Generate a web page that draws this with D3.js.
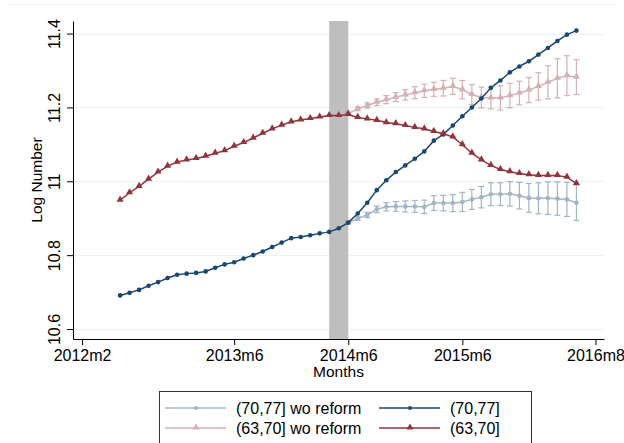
<!DOCTYPE html>
<html>
<head>
<meta charset="utf-8">
<script src="https://d3js.org/d3.v7.min.js"></script>
<style>
body { margin: 0; background: #fff; }
text { font-family: "Liberation Sans", Arial, sans-serif; }
</style>
</head>
<body>
<div id="chart-area"></div>
<script>
/*
*    log number by age group, actual vs. counterfactual
*/

// months counted from 2012m2 (= 0)
var tickMonths = [0, 16, 28, 40, 54];
var tickLabels = ["2012m2", "2013m6", "2014m6", "2015m6", "2016m8"];
var yTicks = [10.6, 10.8, 11, 11.2, 11.4];

var firstMonth = 4;      // 2012m6
var reformMonth = 28;    // 2014m6, counterfactual starts here
var bandStart = 26;      // 2014m4
var bandEnd = 28;        // 2014m6

var old7077 = [10.691, 10.698, 10.706, 10.717, 10.727, 10.738, 10.747, 10.750, 10.752, 10.756,
	10.766, 10.775, 10.781, 10.791, 10.800, 10.810, 10.822, 10.834, 10.846, 10.849,
	10.854, 10.859, 10.863, 10.873, 10.888, 10.913, 10.942, 10.976, 11.003, 11.025,
	11.043, 11.061, 11.081, 11.110, 11.127, 11.151, 11.176, 11.200, 11.224, 11.253,
	11.273, 11.295, 11.311, 11.325, 11.343, 11.361, 11.380, 11.397, 11.408];

var young6370 = [10.949, 10.969, 10.986, 11.006, 11.025, 11.041, 11.052, 11.058, 11.062, 11.068,
	11.076, 11.083, 11.095, 11.105, 11.117, 11.130, 11.142, 11.152, 11.161, 11.166,
	11.170, 11.174, 11.178, 11.178, 11.181, 11.173, 11.169, 11.165, 11.159, 11.156,
	11.151, 11.146, 11.142, 11.135, 11.129, 11.120, 11.099, 11.076, 11.058, 11.043,
	11.032, 11.026, 11.021, 11.018, 11.016, 11.016, 11.016, 11.011, 10.994];

// without reform, from 2014m6 on
var old7077wo = [10.888, 10.899, 10.909, 10.924, 10.931, 10.932, 10.932, 10.932, 10.931, 10.941,
	10.941, 10.941, 10.944, 10.951, 10.957, 10.965, 10.965, 10.966, 10.961, 10.955,
	10.954, 10.954, 10.953, 10.951, 10.942];
var old7077woCI = [0.003, 0.005, 0.007, 0.009, 0.011, 0.013, 0.015, 0.016, 0.018, 0.020,
	0.021, 0.023, 0.026, 0.027, 0.029, 0.031, 0.031, 0.033, 0.036, 0.039,
	0.042, 0.044, 0.045, 0.046, 0.048];

var young6370wo = [11.184, 11.196, 11.205, 11.214, 11.221, 11.228, 11.234, 11.240, 11.245, 11.249,
	11.252, 11.257, 11.248, 11.235, 11.227, 11.226, 11.226, 11.232, 11.239, 11.247,
	11.257, 11.268, 11.279, 11.286, 11.282];
var young6370woCI = [0.003, 0.005, 0.007, 0.009, 0.011, 0.012, 0.014, 0.016, 0.018, 0.019,
	0.021, 0.022, 0.025, 0.027, 0.028, 0.030, 0.033, 0.033, 0.032, 0.034,
	0.037, 0.045, 0.053, 0.054, 0.047];

var navy = "#1a476f";
var maroon = "#90353b";

var width = 624;
var height = 443;
var plot = {left: 73, right: 604, top: 21, bottom: 339};

var svg = d3.select("#chart-area").append("svg")
.attr("width", width)
.attr("height", height)

var x = d3.scaleLinear()
.domain([-0.95, 54.9])
.range([plot.left, plot.right])

var y = d3.scaleLinear()
.domain([10.573, 11.434])
.range([plot.bottom, plot.top])

// faint outer frame line
svg.append("line")
.attr("x1", 10).attr("x2", 614)
.attr("y1", 4.5).attr("y2", 4.5)
.attr("stroke", "#eef3f5")

// grid
svg.selectAll(".grid")
.data(yTicks)
.enter().append("line")
.attr("class", "grid")
.attr("x1", plot.left).attr("x2", plot.right)
.attr("y1", d => Math.round(y(d)) + 0.5)
.attr("y2", d => Math.round(y(d)) + 0.5)
.attr("stroke", "#eaf2f3")
.attr("stroke-width", 1.2)

// reform band
svg.append("rect")
.attr("x", x(bandStart))
.attr("y", plot.top)
.attr("width", x(bandEnd) - x(bandStart))
.attr("height", plot.bottom - plot.top)
.attr("fill", "#bebebe")

// axes
var xAxisCall = d3.axisBottom(x)
.tickValues(tickMonths)
.tickFormat((d, i) => tickLabels[i])
.tickSize(6)
.tickPadding(5)
.tickSizeOuter(0)

var yAxisCall = d3.axisLeft(y)
.tickValues(yTicks)
.tickFormat(d => d3.format("")(d))
.tickSize(6)
.tickSizeOuter(0)

var xAxisGroup = svg.append("g")
.attr("transform", "translate(0, " + plot.bottom + ")")
.call(xAxisCall)

xAxisGroup.selectAll("text")
.attr("font-size", "16px")
.attr("fill", "#000")

var yAxisGroup = svg.append("g")
.attr("transform", "translate(" + plot.left + ", 0)")
.call(yAxisCall)

yAxisGroup.selectAll("text")
.attr("x", 0)
.attr("y", -13)
.attr("dy", 0)
.attr("transform", "rotate(-90)")
.attr("text-anchor", "middle")
.attr("font-size", "16px")
.attr("fill", "#000")

svg.selectAll(".domain, .tick line")
.attr("stroke", "#000")

// labels
svg.append("text")
.attr("x", (plot.left + plot.right) / 2)
.attr("y", 377)
.attr("font-size", "15.5px")
.attr("text-anchor", "middle")
.text("Months")

svg.append("text")
.attr("transform", "translate(42, " + (plot.top + plot.bottom) / 2 + ") rotate(-90)")
.attr("font-size", "15.5px")
.attr("text-anchor", "middle")
.text("Log Number")

var toPoints = (vals, start, ci) => vals.map((v, i) => ({m: start + i, v: v, ci: ci ? ci[i] : 0}))

var line = d3.line()
.x(d => x(d.m))
.y(d => y(d.v))

var tri = d3.symbol().type(d3.symbolTriangle).size(22)

var drawSeries = (data, color, opacity, marker, withCI) => {
	var g = svg.append("g")
	.attr("opacity", opacity)

	if (withCI) {
		var bars = g.selectAll(".ci")
		.data(data)
		.enter().append("g")
		.attr("stroke", color)
		.attr("stroke-width", 1.2)

		bars.append("line")
		.attr("x1", d => x(d.m)).attr("x2", d => x(d.m))
		.attr("y1", d => y(d.v - d.ci)).attr("y2", d => y(d.v + d.ci))
		bars.append("line")
		.attr("x1", d => x(d.m) - 3).attr("x2", d => x(d.m) + 3)
		.attr("y1", d => y(d.v + d.ci)).attr("y2", d => y(d.v + d.ci))
		bars.append("line")
		.attr("x1", d => x(d.m) - 3).attr("x2", d => x(d.m) + 3)
		.attr("y1", d => y(d.v - d.ci)).attr("y2", d => y(d.v - d.ci))
	}

	g.append("path")
	.attr("d", line(data))
	.attr("fill", "none")
	.attr("stroke", color)
	.attr("stroke-width", 1.5)

	if (marker == "circle") {
		g.selectAll(".pt")
		.data(data)
		.enter().append("circle")
		.attr("cx", d => x(d.m))
		.attr("cy", d => y(d.v))
		.attr("r", 2.3)
		.attr("fill", color)
	} else {
		g.selectAll(".pt")
		.data(data)
		.enter().append("path")
		.attr("d", tri)
		.attr("transform", d => "translate(" + x(d.m) + "," + (y(d.v) - 0.5) + ")")
		.attr("fill", color)
	}
}

drawSeries(toPoints(old7077wo, reformMonth, old7077woCI), navy, 0.4, "circle", true)
drawSeries(toPoints(young6370wo, reformMonth, young6370woCI), maroon, 0.38, "triangle", true)
drawSeries(toPoints(old7077, firstMonth), navy, 1, "circle", false)
drawSeries(toPoints(young6370, firstMonth), maroon, 1, "triangle", false)

// legend
var legendItems = [
	{label: "(70,77] wo reform", color: navy, opacity: 0.4, marker: "circle", col: 0, row: 0},
	{label: "(70,77]", color: navy, opacity: 1, marker: "circle", col: 1, row: 0},
	{label: "(63,70] wo reform", color: maroon, opacity: 0.38, marker: "triangle", col: 0, row: 1},
	{label: "(63,70]", color: maroon, opacity: 1, marker: "triangle", col: 1, row: 1}
]

var legend = svg.append("g")

legend.append("rect")
.attr("x", 159.5)
.attr("y", 391.5)
.attr("width", 372)
.attr("height", 56)
.attr("fill", "#fff")
.attr("stroke", "#333")
.attr("stroke-width", 1)

legendItems.forEach(item => {
	var legendRow = legend.append("g")
	.attr("transform", "translate(" + (165 + item.col * 214) + ", " + (408 + item.row * 20) + ")")

	var sample = legendRow.append("g")
	.attr("opacity", item.opacity)

	sample.append("line")
	.attr("x1", 0).attr("x2", 61)
	.attr("stroke", item.color)
	.attr("stroke-width", item.opacity < 1 ? 1.3 : 1.6)

	if (item.marker == "circle") {
		sample.append("circle")
		.attr("cx", 31)
		.attr("r", 2)
		.attr("fill", item.color)
	} else {
		sample.append("path")
		.attr("d", tri)
		.attr("transform", "translate(31, -0.5)")
		.attr("fill", item.color)
	}

	legendRow.append("text")
	.attr("x", 71)
	.attr("y", 5.5)
	.attr("font-size", "16px")
	.text(item.label)
})
</script>
</body>
</html>
